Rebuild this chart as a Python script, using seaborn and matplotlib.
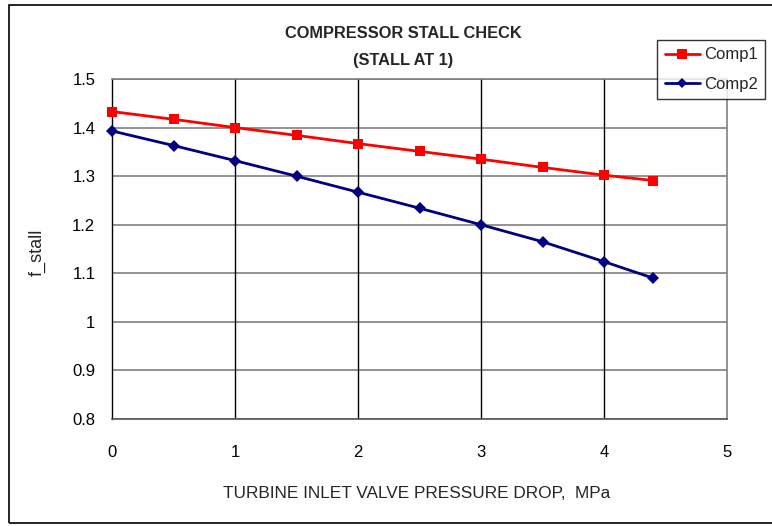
import numpy as np
import pandas as pd
import matplotlib
matplotlib.use("Agg")
import matplotlib.pyplot as plt
import seaborn as sns
from matplotlib.patches import Rectangle
from matplotlib.lines import Line2D

pressure_drop = [0, 0.5, 1, 1.5, 2, 2.5, 3, 3.5, 4, 4.4]
comp1 = [1.433, 1.417, 1.400, 1.384, 1.367, 1.351, 1.335, 1.318, 1.302, 1.291]
comp2 = [1.393, 1.363, 1.332, 1.300, 1.267, 1.234, 1.200, 1.165, 1.124, 1.090]
series_names = ["Comp1", "Comp2"]
x_ticks = [0, 1, 2, 3, 4, 5]
y_ticks = [0.8, 0.9, 1.0, 1.1, 1.2, 1.3, 1.4, 1.5]
y_tick_labels = ["0.8", "0.9", "1", "1.1", "1.2", "1.3", "1.4", "1.5"]

df = pd.DataFrame({
    "x": pressure_drop * 2,
    "y": comp1 + comp2,
    "series": [series_names[0]] * len(comp1) + [series_names[1]] * len(comp2),
})

sns.set_theme(style="white")
plt.rcParams["font.family"] = ["Liberation Sans", "DejaVu Sans"]

fig = plt.figure(figsize=(7.72, 5.26), dpi=100)
ax = fig.add_axes([112/772, 1-419/526, (727-112)/772, (419-79)/526])

palette = {"Comp1": "#ff0000", "Comp2": "#000080"}
sns.lineplot(data=df, x="x", y="y", hue="series", style="series",
             markers={"Comp1": "s", "Comp2": "D"}, dashes=False,
             palette=palette, ax=ax, linewidth=2, markeredgewidth=0,
             legend=False, zorder=5)
for line, ms in zip(ax.get_lines(), [7.5, 6.5]):
    line.set_markersize(ms)
    line.set_clip_on(False)

ax.set_xlim(0, 5)
ax.set_ylim(0.8, 1.5)
ax.set_xticks(x_ticks)
ax.set_yticks(y_ticks)
ax.set_yticklabels(y_tick_labels)
ax.set_xticklabels([str(t) for t in x_ticks])
ax.tick_params(axis="both", labelsize=12, colors="#000000", length=5, width=1,
               direction="out")
ax.tick_params(axis="x", color="#555555", pad=14)
ax.tick_params(axis="y", color="#555555", pad=7)
ax.grid(False)
for y in y_ticks:
    ax.axhline(y, color="#808080", lw=1.2, zorder=1)
for x in x_ticks[1:-1]:
    ax.axvline(x, color="#000000", lw=1, zorder=1)
for s in ["top", "right"]:
    ax.spines[s].set_color("#808080")
    ax.spines[s].set_linewidth(1.2)
ax.spines["left"].set_color("#000000")
ax.spines["left"].set_linewidth(1)
ax.spines["bottom"].set_color("#555555")
ax.spines["bottom"].set_linewidth(1.2)

ax.set_xlabel("TURBINE INLET VALVE PRESSURE DROP,  MPa", fontsize=12.4)
ax.xaxis.set_label_coords(0.496, -0.198)
ax.set_ylabel("f_stall", fontsize=13)
ax.yaxis.set_label_coords(-0.108, 0.49)

fig.text(0.522, 1-33/526, "COMPRESSOR STALL CHECK", ha="center", va="center",
         fontsize=11.8, fontweight="bold")
fig.text(0.522, 1-60/526, "(STALL AT 1)", ha="center", va="center",
         fontsize=11.8, fontweight="bold")

handles = [Line2D([], [], color=palette[n], marker=m, lw=2, markersize=ms, markeredgewidth=0)
           for n, m, ms in zip(series_names, ["s", "D"], [7.5, 5.5])]
leg = fig.legend(handles, series_names, loc="upper left",
                 bbox_to_anchor=(657/772, 1-40/526), fontsize=12,
                 frameon=True, fancybox=False, edgecolor="#000000",
                 borderpad=0.45, handlelength=2.1, handletextpad=0.25,
                 labelspacing=0.85, borderaxespad=0)
leg.get_frame().set_linewidth(1)

fig.patches.append(Rectangle((9/772, 3/526), 1.1, 1-8/526, transform=fig.transFigure,
                             fill=False, edgecolor="#000000", lw=1.2))

fig.savefig("out.png", dpi=100)
